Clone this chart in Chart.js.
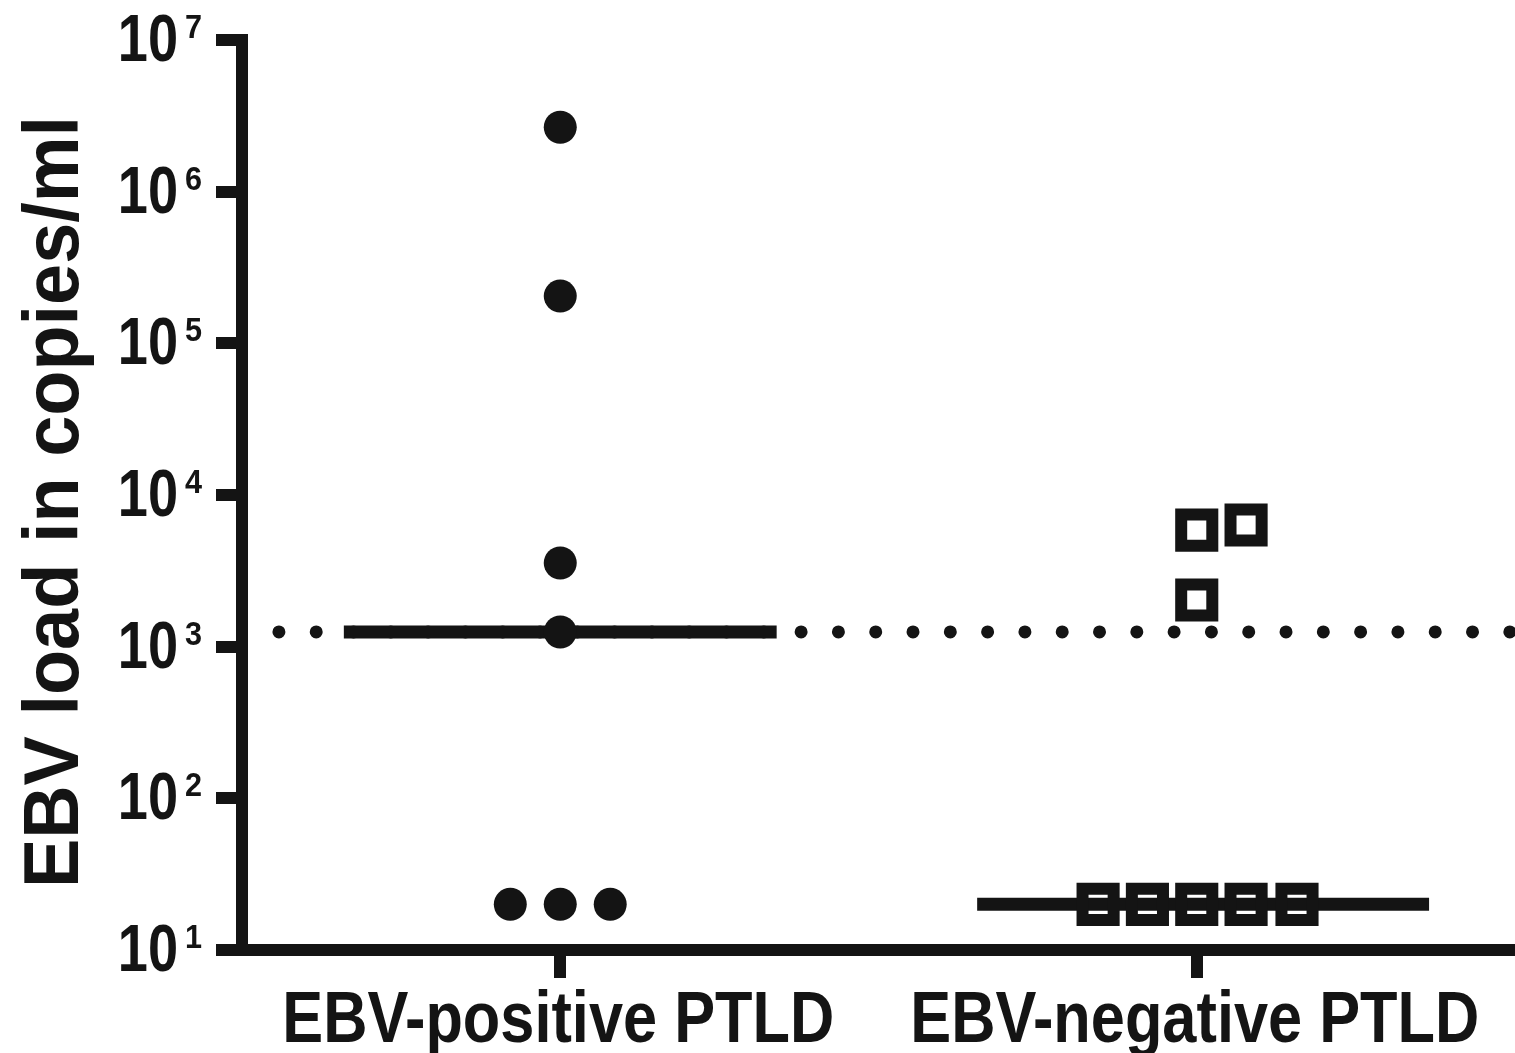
<!DOCTYPE html>
<html>
<head>
<meta charset="utf-8">
<title>EBV load in copies/ml</title>
<script src="https://cdn.jsdelivr.net/npm/chart.js@4"></script>
<style>
  html, body { margin:0; padding:0; background:#fff; }
  #wrap { width:1515px; height:1053px; }
</style>
</head>
<body>
<div id="wrap"><canvas id="chart" width="1515" height="1053"></canvas></div>
<script>
// ====== DATA ======
const CATEGORIES = ['EBV-positive PTLD', 'EBV-negative PTLD'];
const CATEGORY_X = [1, 3];
const Y_TITLE = 'EBV load in copies/ml';
const Y_TICKS = [10, 100, 1000, 10000, 100000, 1000000, 10000000];
const Y_TICK_BASE = '10';
const Y_TICK_EXP = ['1', '2', '3', '4', '5', '6', '7'];

// EBV-positive PTLD (filled circles), x = category position with jitter
const POS_X = [1, 1, 1, 1, 0.843, 1, 1.157];
const POS_Y = [2660000, 205000, 3560, 1250, 20, 20, 20];
// EBV-negative PTLD (open squares)
const NEG_X = [3, 3.155, 3, 2.69, 2.845, 3, 3.155, 3.315];
const NEG_Y = [5870, 6340, 2030, 20, 20, 20, 20, 20];

// medians and cutoff
const MEDIAN_POS = 1250;
const MEDIAN_POS_X = [0.32, 1.68];
const MEDIAN_NEG = 20;
const MEDIAN_NEG_X = [2.31, 3.73];
const CUTOFF = 1250;
const CUTOFF_X = [0.116, 4];

// ====== STYLE ======
const INK = '#141414';
const FONT = '"Liberation Sans", Arial, Helvetica, sans-serif';

function pts(xs, ys){ return xs.map((x,i)=>({x, y: ys[i]})); }
function hline(xs, v){ return xs.map(x=>({x, y: v})); }

// ====== TEXT (tick labels with superscripts, axis title, category labels) ======
const textPlugin = {
  id: 'textLabels',
  afterDraw(chart){
    const ctx = chart.ctx, ys = chart.scales.y, xs = chart.scales.x;
    const left = chart.chartArea.left, bottom = chart.chartArea.bottom;
    ctx.save();
    ctx.fillStyle = INK;
    ctx.textBaseline = 'alphabetic';
    Y_TICKS.forEach((v,i)=>{
      const py = ys.getPixelForValue(v);
      ctx.save();
      ctx.translate(left - 64, py + 21);
      ctx.scale(0.82, 1);
      ctx.font = 'bold 66px ' + FONT;
      ctx.textAlign = 'right';
      ctx.fillText(Y_TICK_BASE, 0, 0);
      ctx.restore();
      ctx.save();
      ctx.translate(left - 57, py - 2);
      ctx.scale(0.9, 1);
      ctx.font = 'bold 34px ' + FONT;
      ctx.textAlign = 'left';
      ctx.fillText(Y_TICK_EXP[i], 0, 0);
      ctx.restore();
    });
    CATEGORIES.forEach((c,i)=>{
      const px = xs.getPixelForValue(CATEGORY_X[i]);
      ctx.save();
      ctx.translate(px - 2, bottom + 92);
      ctx.scale(0.84, 1);
      ctx.font = 'bold 73px ' + FONT;
      ctx.textAlign = 'center';
      ctx.fillText(c, 0, 0);
      ctx.restore();
    });
    const midY = (chart.chartArea.top + bottom) / 2;
    ctx.save();
    ctx.translate(78, midY + 7);
    ctx.rotate(-Math.PI/2);
    ctx.scale(0.96, 1);
    ctx.font = 'bold 77px ' + FONT;
    ctx.textAlign = 'center';
    ctx.fillText(Y_TITLE, 0, 0);
    ctx.restore();
    ctx.restore();
  }
};

// ====== CHART ======
const lineDs = (data, extra) => Object.assign({
  data, showLine:true, pointRadius:0, borderColor:INK, backgroundColor:INK,
  borderWidth:13, borderCapStyle:'butt', fill:false, tension:0
}, extra);

new Chart(document.getElementById('chart').getContext('2d'), {
  type: 'scatter',
  data: {
    datasets: [
      { label:'EBV-positive', data:pts(POS_X, POS_Y), order:1,
        pointStyle:'circle', pointRadius:16.5, pointBackgroundColor:INK, pointBorderWidth:0 },
      { label:'EBV-negative', data:pts(NEG_X, NEG_Y), order:2,
        pointStyle:'rect', pointRadius:22, pointBackgroundColor:'rgba(0,0,0,0)',
        pointBorderColor:INK, pointBorderWidth:12 },
      lineDs(hline(MEDIAN_POS_X, MEDIAN_POS), { label:'median+', order:3 }),
      lineDs(hline(MEDIAN_NEG_X, MEDIAN_NEG), { label:'median-', order:4 }),
      lineDs(hline(CUTOFF_X, CUTOFF), { label:'cutoff', order:5,
        borderDash:[0, 37.3], borderCapStyle:'round' })
    ]
  },
  options: {
    responsive:false, animation:false, events:[],
    layout:{ autoPadding:false, padding:{ top:40, right:0, bottom:0, left:0 } },
    plugins:{ legend:{display:false}, tooltip:{enabled:false}, title:{display:false} },
    scales:{
      x:{
        type:'linear', min:0, max:4,
        afterBuildTicks: s => { s.ticks = CATEGORY_X.map(v=>({value:v})); },
        afterFit: s => { s.height = 103; },
        ticks:{ display:false },
        grid:{ drawOnChartArea:false, drawTicks:true, tickLength:28, lineWidth:12, color:INK },
        border:{ display:true, width:12, color:INK }
      },
      y:{
        type:'logarithmic', min:10, max:10000000,
        afterBuildTicks: s => { s.ticks = Y_TICKS.map(v=>({value:v})); },
        afterFit: s => { s.width = 242; },
        ticks:{ display:false },
        grid:{ drawOnChartArea:false, drawTicks:true, tickLength:26, lineWidth:12, color:INK },
        border:{ display:true, width:12, color:INK }
      }
    }
  },
  plugins:[textPlugin]
});
</script>
</body>
</html>
